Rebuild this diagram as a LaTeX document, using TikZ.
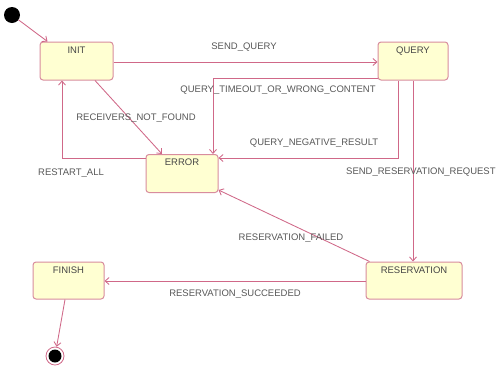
\documentclass[tikz,border=0pt]{standalone}
\usepackage{fontspec}
\setmainfont{Liberation Sans}
\usetikzlibrary{arrows.meta}
\definecolor{rozovyj}{HTML}{D06888}
\definecolor{ramka}{HTML}{D88C9E}
\definecolor{zheltyj}{HTML}{FFFFD2}
\definecolor{seryj}{HTML}{585858}
\tikzset{
	sost/.style={draw=ramka, fill=zheltyj, rounded corners=3pt, line width=1pt, minimum width=#1, minimum height=38pt, inner sep=0pt},
	imja/.style={anchor=north, yshift=-3pt, inner sep=2pt, text=seryj!80!black, font=\fontsize{9.5}{10}\selectfont},
	perehod/.style={draw=rozovyj, line width=0.85pt, -{Straight Barb[length=4pt,width=7pt]}},
	metka/.style={text=seryj, font=\fontsize{9.5}{10}\selectfont, inner sep=1pt}
}
\begin{document}
	\begin{tikzpicture}[x=1pt,y=-1pt]
		\useasboundingbox [fill=white] ( 0, 0 ) rectangle ( 502, 373 );

		% начальное и конечное состояния
		\node [circle, fill=black, minimum size=16pt, inner sep=0pt] (nachalo) at ( 12, 15 ) {};
		\node [circle, draw=rozovyj, line width=0.8pt, fill=white, minimum size=18pt, inner sep=0pt] (konec) at ( 55, 356 ) {};
		\node [circle, fill=black, minimum size=13pt, inner sep=0pt] (konecT) at ( 55, 356 ) {};

		% состояния
		\node [sost=73pt, label={[imja]north:INIT}] (init) at ( 76.5, 61 ) {};
		\node [sost=70pt, label={[imja]north:QUERY}] (query) at ( 413, 61 ) {};
		\node [sost=72pt, label={[imja]north:ERROR}] (error) at ( 182, 173.5 ) {};
		\node [sost=71pt, minimum height=37pt, label={[imja]north:FINISH}] (finish) at ( 68.5, 280.5 ) {};
		\node [sost=96pt, minimum height=37pt, label={[imja]north:RESERVATION}] (reserv) at ( 414, 280.5 ) {};

		% переходы
		\draw [perehod] (nachalo) -- ([xshift=8pt]init.north west);
		\draw [perehod] ([yshift=-1pt]init.east) -- ([yshift=-1pt]query.west);
		\draw [perehod] ([yshift=2pt]query.south west) -| ([xshift=31pt]error.north);
		\draw [perehod] ([xshift=-15pt]query.south) |- ([yshift=15.5pt]error.east);
		\draw [perehod] ([xshift=-1pt]reserv.north |- query.south) -- ([xshift=-1pt]reserv.north);
		\draw [perehod] ([xshift=18.5pt]init.south) -- ([xshift=-20pt]error.north);
		\draw [perehod] ([yshift=15.5pt]error.west) -| ([xshift=-14.5pt]init.south);
		\draw [perehod] ([xshift=4pt]reserv.north west) -- ([yshift=3pt]error.south east);
		\draw [perehod] ([yshift=-0.5pt]reserv.west) -- ([yshift=-0.5pt]finish.east);
		\draw [perehod] ([xshift=-3.5pt]finish.south) -- (konec);

		% подписи переходов
		\node [metka] (mSendQuery) at ( 244, 47 ) {SEND\_QUERY};
		\node [metka] (mTimeout) at ( 278, 90 ) {QUERY\_TIMEOUT\_OR\_WRONG\_CONTENT};
		\node [metka] (mNegative) at ( 314, 143 ) {QUERY\_NEGATIVE\_RESULT};
		\node [metka, anchor=west] (mSendRes) at ( 345, 172 ) {SEND\_RESERVATION\_REQUEST};
		\node [metka] (mReceivers) at ( 136, 118 ) {RECEIVERS\_NOT\_FOUND};
		\node [metka] (mRestart) at ( 71, 173 ) {RESTART\_ALL};
		\node [metka] (mFailed) at ( 291, 238 ) {RESERVATION\_FAILED};
		\node [metka] (mSucceeded) at ( 235, 294 ) {RESERVATION\_SUCCEEDED};
	\end{tikzpicture}
\end{document}
